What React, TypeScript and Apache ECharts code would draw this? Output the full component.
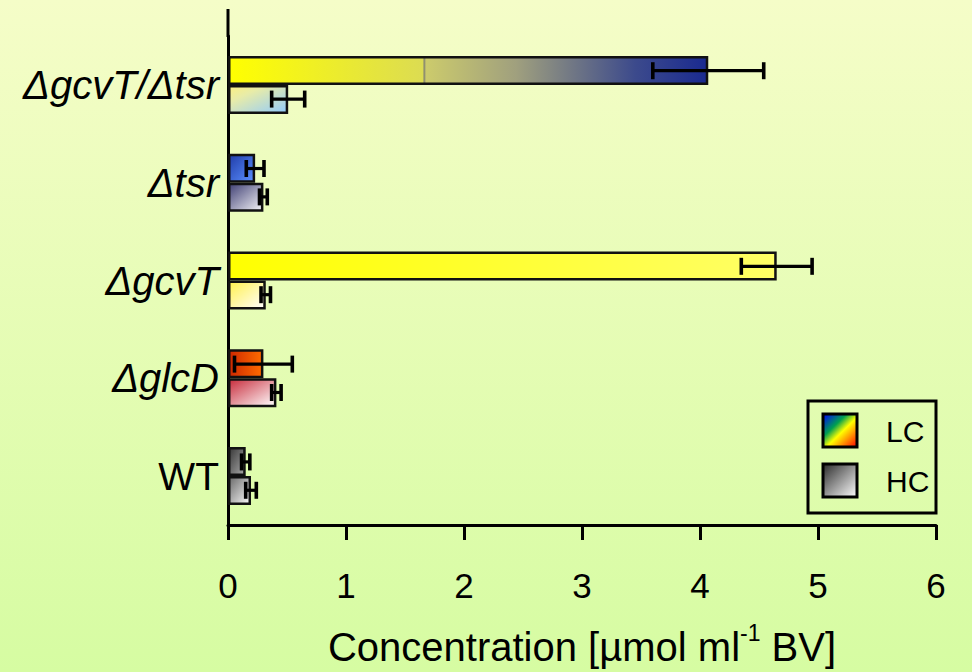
import React, { useEffect, useRef } from 'react';
import * as echarts from 'echarts';

// Categories listed bottom → top
const categories = ['WT', 'ΔglcD', 'ΔgcvT', 'Δtsr', 'ΔgcvT/Δtsr'];
const lcValues = [0.15, 0.30, 4.65, 0.23, 4.07];
const lcErrors = [0.035, 0.245, 0.30, 0.075, 0.47];
const hcValues = [0.195, 0.41, 0.32, 0.30, 0.51];
const hcErrors = [0.045, 0.04, 0.04, 0.033, 0.14];
const legendLabels = ['LC', 'HC'];
const axisTitle = 'Concentration [µmol ml';
const axisTitleSup = '-1';
const axisTitleEnd = ' BV]';

const FONT = '"Liberation Sans", Arial, Helvetica, sans-serif';

function lg(x2: number, y2: number, stops: [number, string][]) {
  return new echarts.graphic.LinearGradient(
    0, 0, x2, y2,
    stops.map(([offset, color]) => ({ offset, color }))
  );
}

const lcColors = [
  lg(1, 1, [[0, '#383838'], [1, '#a8a8a8']]),
  lg(1, 0, [[0, '#cc2800'], [1, '#ff6c00']]),
  lg(1, 0, [[0, '#ffff00'], [1, '#ffff66']]),
  lg(1, 1, [[0, '#1f3ca8'], [1, '#5c90ff']]),
  lg(1, 0, [
    [0, '#ffff00'],
    [0.405, '#dcdc52'],
    [0.408, '#858570'],
    [0.412, '#cccb6c'],
    [0.6, '#a0a07e'],
    [0.85, '#3c4a8c'],
    [1, '#1a2a90'],
  ]),
];
const hcColors = [
  lg(1, 1, [[0, '#6a6a6a'], [1, '#fafafa']]),
  lg(1, 1, [[0, '#c82c3c'], [1, '#ffffff']]),
  lg(1, 1, [[0, '#fff04c'], [1, '#ffffff']]),
  lg(1, 1, [[0, '#404074'], [1, '#f4f4f8']]),
  lg(1, 1, [[0, '#fcf080'], [0.3, '#e8eca8'], [1, '#92cbfc']]),
];
const legendLC = lg(1, 1, [[0, '#0000ff'], [0.35, '#00a050'], [0.55, '#ffff00'], [1, '#ff0000']]);
const legendHC = lg(1, 1, [[0, '#2a2a2a'], [1, '#ffffff']]);

export default function App() {
  const ref = useRef<HTMLDivElement>(null);

  useEffect(() => {
    if (!ref.current) return;
    const chart = echarts.init(ref.current, undefined, { renderer: 'svg' });

    const errData: number[][] = [];
    categories.forEach((_, i) => {
      errData.push([lcValues[i] - lcErrors[i], lcValues[i] + lcErrors[i], i, -1]);
      errData.push([hcValues[i] - hcErrors[i], hcValues[i] + hcErrors[i], i, 1]);
    });

    const barStyle = { borderColor: '#111', borderWidth: 2.5 };

    chart.setOption({
      animation: false,
      backgroundColor: 'transparent',
      grid: { left: 228, right: 36, top: 36, bottom: 139, containLabel: false },
      xAxis: {
        type: 'value',
        min: 0,
        max: 6,
        interval: 1,
        splitLine: { show: false },
        axisLine: { show: true, lineStyle: { color: '#000', width: 3 } },
        axisTick: { show: true, length: 15, lineStyle: { color: '#000', width: 3 } },
        axisLabel: { color: '#000', fontSize: 35, fontFamily: FONT, margin: 43 },
        name: `{a|${axisTitle}}{s|${axisTitleSup}}{a|${axisTitleEnd}}`,
        nameLocation: 'middle',
        nameGap: 96,
        nameTextStyle: {
          rich: {
            a: { fontSize: 40, fontFamily: FONT, color: '#000', lineHeight: 46, verticalAlign: 'bottom' },
            s: { fontSize: 23, fontFamily: FONT, color: '#000', lineHeight: 46, verticalAlign: 'top', padding: [0, 0, 15, 0] },
          },
        },
      },
      yAxis: {
        type: 'category',
        data: categories,
        axisLine: { show: true, lineStyle: { color: '#000', width: 3 } },
        axisTick: { show: false },
        axisLabel: {
          margin: 9,
          formatter: (v: string) => (v === 'WT' ? `{n|${v}}` : `{i|${v}}`),
          rich: {
            n: { fontSize: 39, fontFamily: FONT, color: '#000' },
            i: { fontSize: 40, fontFamily: FONT, color: '#000', fontStyle: 'italic' },
          },
        },
      },
      series: [
        {
          name: legendLabels[0],
          type: 'bar',
          barWidth: 29,
          barGap: '0%',
          data: lcValues.map((v, i) => ({ value: v, itemStyle: { color: lcColors[i], ...barStyle } })),
        },
        {
          name: legendLabels[1],
          type: 'bar',
          barWidth: 29,
          barGap: '0%',
          data: hcValues.map((v, i) => ({ value: v, itemStyle: { color: hcColors[i], ...barStyle } })),
        },
        {
          type: 'custom',
          encode: { x: [0, 1], y: 2 },
          z: 10,
          data: errData,
          renderItem: (params: any, api: any) => {
            const lo = api.value(0);
            const hi = api.value(1);
            const cat = api.value(2);
            const side = api.value(3);
            const band = api.size([0, 1])[1];
            const pLo = api.coord([lo, cat]);
            const pHi = api.coord([hi, cat]);
            const y = pLo[1] + side * 14.5 * (band / 100);
            const h = 8.5;
            const st = { stroke: '#000', lineWidth: 3.2 };
            const cap = { stroke: '#000', lineWidth: 3.6 };
            return {
              type: 'group',
              children: [
                { type: 'line', shape: { x1: pLo[0], y1: y, x2: pHi[0], y2: y }, style: st },
                { type: 'line', shape: { x1: pLo[0], y1: y - h, x2: pLo[0], y2: y + h }, style: cap },
                { type: 'line', shape: { x1: pHi[0], y1: y - h, x2: pHi[0], y2: y + h }, style: cap },
              ],
            };
          },
        },
      ],
      graphic: [
        { type: 'line', shape: { x1: 228, y1: 9, x2: 228, y2: 37 }, style: { stroke: '#000', lineWidth: 3 } },
        { type: 'rect', shape: { x: 808, y: 401, width: 128, height: 112 }, style: { fill: 'none', stroke: '#000', lineWidth: 3 } },
        { type: 'rect', shape: { x: 823, y: 414, width: 34, height: 33 }, style: { fill: legendLC, stroke: '#000', lineWidth: 3 } },
        { type: 'rect', shape: { x: 823, y: 464, width: 34, height: 33 }, style: { fill: legendHC, stroke: '#000', lineWidth: 3 } },
        { type: 'text', x: 886, y: 431, style: { text: legendLabels[0], fontSize: 30, fontFamily: FONT, fill: '#000', verticalAlign: 'middle' } },
        { type: 'text', x: 886, y: 481, style: { text: legendLabels[1], fontSize: 30, fontFamily: FONT, fill: '#000', verticalAlign: 'middle' } },
      ],
    });

    return () => chart.dispose();
  }, []);

  return (
    <div
      style={{
        position: 'fixed',
        left: 0,
        top: 0,
        width: 972,
        height: 672,
        background: 'linear-gradient(to bottom, #f5fdc8, #d6fca2)',
      }}
    >
      <div ref={ref} style={{ width: 972, height: 672 }} />
    </div>
  );
}
